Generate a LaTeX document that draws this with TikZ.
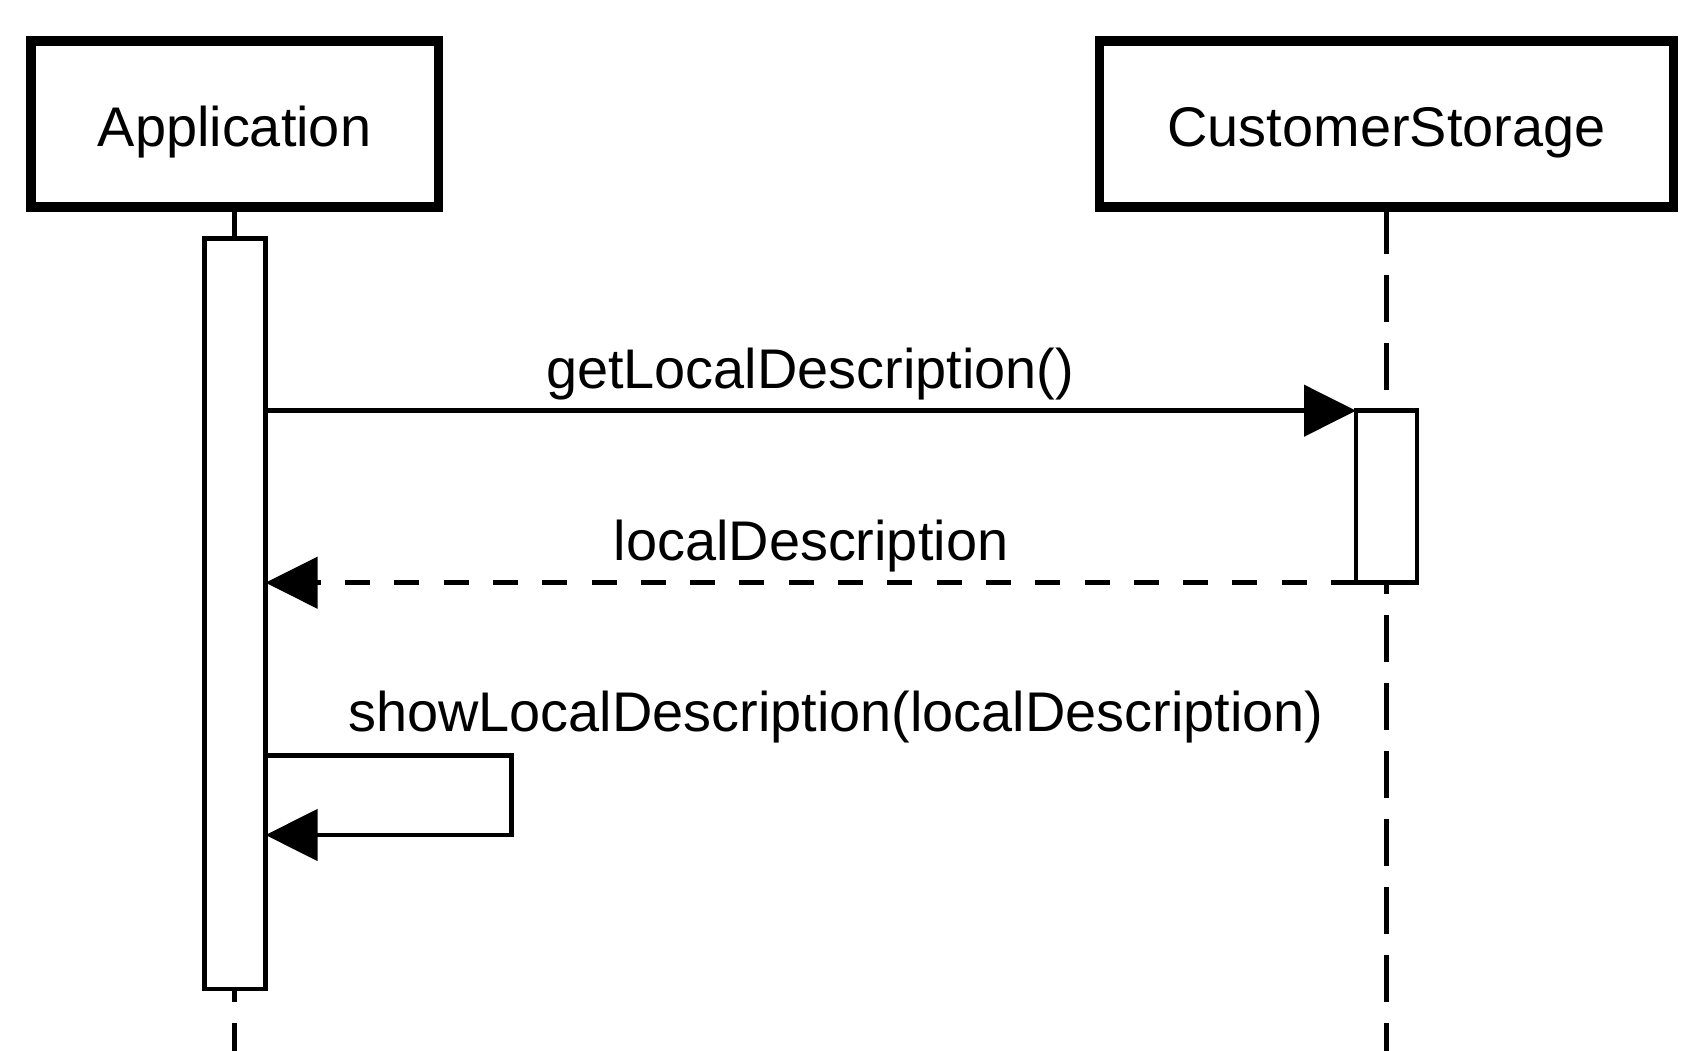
\documentclass[tikz,border=0pt]{standalone}
\usepackage{fontspec}
\setmainfont{Liberation Sans}
\usetikzlibrary{arrows.meta, positioning}

\tikzset{
  actor/.style={draw, line width=0.095cm, minimum height=1.66cm,
                text height=0.45cm, text depth=0cm},
  actbar/.style={draw, fill=white, line width=0.045cm, minimum width=0.61cm,
                 inner sep=0pt, outer sep=0pt},
  lifeline/.style={line width=0.045cm, dash pattern=on 0.47cm off 0.21cm,
                   dash phase=0.05cm},
  msg/.style={->, line width=0.045cm},
  reply/.style={msg, dash pattern=on 0.25cm off 0.243cm},
  msglabel/.style={inner sep=0pt}
}

\begin{document}
\begin{tikzpicture}[font=\fontsize{15.9pt}{19pt}\selectfont,
                    >={Triangle[length=0.52cm, width=0.51cm]}]
  \useasboundingbox (0,0) rectangle (17.03,-10.51);

  % participants
  \node[actor, minimum width=4.075cm] (app) at (2.345,-1.24) {Application};
  \node[actor, minimum width=5.74cm] (store) at (13.865,-1.24) {CustomerStorage};

  % lifelines
  \coordinate (bottom) at (0,-10.51);
  \draw[lifeline] (app.south) -- (app.south |- bottom);
  \draw[lifeline] (store.south) -- (store.south |- bottom);

  % activations
  \node[actbar, minimum height=7.505cm] (appbar) at (2.35,-6.1375) {};
  \node[actbar, minimum height=1.72cm] (storebar) at (13.865,-4.967) {};

  % calls
  \draw[msg] (appbar.east |- storebar.north) -- (storebar.north west);
  \node[msglabel, anchor=base] (getlbl) at (8.10,-3.88) {getLocalDescription()};

  \draw[reply] (storebar.south west) -- (appbar.east |- storebar.south);
  \node[msglabel, anchor=base] (replylbl) at (8.11,-5.60) {localDescription};

  \coordinate (selftop) at (5.117,-7.553);
  \coordinate (selfbot) at (5.117,-8.35);
  \draw[msg] (appbar.east |- selftop) -- (selftop) -- (selfbot)
    -- (appbar.east |- selfbot);
  \node[msglabel, anchor=base west] (showlbl) at (3.475,-7.31)
    {showLocalDescription(localDescription)};
\end{tikzpicture}
\end{document}
